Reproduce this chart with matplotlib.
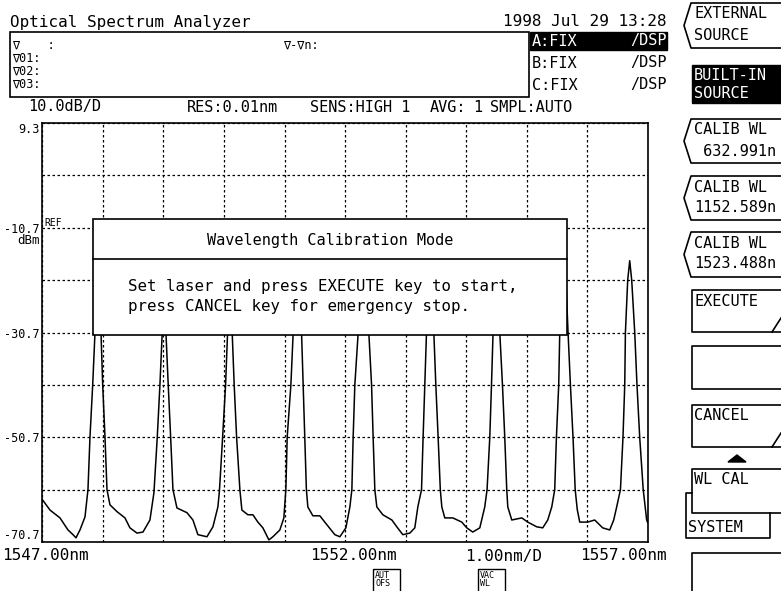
import numpy as np
import matplotlib.pyplot as plt
from matplotlib.patches import Rectangle, Polygon

plt.rcParams['font.family'] = ['DejaVu Sans Mono', 'DejaVu Sans']

# ---- trace (wavelength offset from 1547 nm, level dBm)
wl_off = [0.000, 0.127, 0.292, 0.424, 0.507, 0.556, 0.622, 0.705, 0.754, 0.787,
          0.832, 0.870, 0.894, 0.919, 0.944, 0.969, 0.997, 1.035, 1.068, 1.117,
          1.233, 1.365, 1.447, 1.563, 1.662, 1.777, 1.843, 1.898, 1.942, 1.980,
          2.008, 2.016, 2.028, 2.041, 2.079, 2.119, 2.157, 2.223, 2.388, 2.487,
          2.569, 2.718, 2.817, 2.899, 2.924, 2.977, 3.026, 3.059, 3.081, 3.097,
          3.114, 3.135, 3.168, 3.208, 3.262, 3.295, 3.394, 3.477, 3.559, 3.642,
          3.741, 3.807, 3.922, 3.988, 4.021, 4.043, 4.104, 4.142, 4.178, 4.211,
          4.244, 4.280, 4.307, 4.335, 4.360, 4.384, 4.467, 4.582, 4.698, 4.830,
          4.913, 5.012, 5.078, 5.111, 5.132, 5.160, 5.215, 5.259, 5.300, 5.342,
          5.391, 5.436, 5.462, 5.490, 5.523, 5.622, 5.771, 5.853, 5.952, 6.068,
          6.150, 6.200, 6.261, 6.287, 6.315, 6.343, 6.373, 6.403, 6.431, 6.464,
          6.497, 6.535, 6.571, 6.596, 6.645, 6.777, 6.926, 7.008, 7.107, 7.223,
          7.305, 7.343, 7.388, 7.416, 7.442, 7.470, 7.498, 7.528, 7.553, 7.597,
          7.635, 7.668, 7.685, 7.751, 7.916, 8.015, 8.163, 8.262, 8.345, 8.411,
          8.460, 8.488, 8.526, 8.543, 8.576, 8.609, 8.642, 8.680, 8.719, 8.762,
          8.798, 8.832, 8.873, 9.005, 9.120, 9.252, 9.368, 9.434, 9.483, 9.545,
          9.587, 9.616, 9.627, 9.665, 9.698, 9.731, 9.781, 9.818, 9.863, 9.921,
          9.978, 9.995]
level = [-62.6, -64.6, -66.1, -68.4, -69.3, -69.9, -68.4, -65.9, -60.7, -50.7,
         -40.7, -30.7, -20.0, -15.0, -20.0, -30.7, -40.7, -50.7, -60.7, -63.6,
         -64.9, -66.1, -68.0, -69.0, -68.8, -66.5, -61.3, -50.7, -40.7, -30.7,
         -20.0, -14.0, -20.0, -30.7, -40.7, -50.7, -60.7, -64.2, -65.1, -66.5,
         -69.3, -69.7, -67.8, -64.0, -61.0, -50.7, -40.7, -30.7, -20.0, -15.0,
         -20.0, -30.7, -40.7, -50.7, -60.7, -64.6, -65.5, -65.5, -66.9, -68.0,
         -70.3, -69.7, -68.4, -66.1, -60.7, -50.7, -40.7, -30.7, -20.0, -14.0,
         -20.0, -30.7, -40.7, -50.7, -60.7, -64.0, -65.7, -65.7, -67.4, -69.3,
         -69.7, -68.0, -64.0, -60.7, -50.7, -40.7, -30.7, -20.0, -15.0, -20.0,
         -30.7, -40.7, -50.7, -60.7, -64.0, -65.5, -66.5, -67.8, -69.3, -69.0,
         -68.0, -64.0, -60.7, -50.7, -40.7, -30.7, -20.0, -15.0, -20.0, -30.7,
         -40.7, -50.7, -60.7, -64.0, -66.1, -66.1, -66.9, -68.0, -68.8, -68.0,
         -64.0, -60.7, -50.7, -40.7, -30.7, -20.0, -15.0, -20.0, -30.7, -40.7,
         -50.7, -60.7, -64.0, -66.5, -66.1, -66.9, -67.8, -68.0, -66.5, -64.0,
         -60.7, -50.7, -40.7, -30.7, -20.0, -15.0, -20.0, -30.7, -40.7, -50.7,
         -60.7, -64.5, -66.9, -66.9, -66.5, -68.0, -68.4, -66.5, -64.0, -60.7,
         -50.7, -40.7, -30.7, -20.7, -17.0, -20.7, -30.7, -40.7, -50.7, -60.7,
         -66.5, -67.0]

wl_start = 1547.00
wl_stop = 1557.00
y_grid = [9.3, -0.7, -10.7, -20.7, -30.7, -40.7, -50.7, -60.7, -70.7]
y_labels = ['9.3', '', '-10.7', '', '-30.7', '', '-50.7', '', '-70.7']

header = ['10.0dB/D', 'RES:0.01nm', 'SENS:HIGH 1', 'AVG:', '1', 'SMPL:AUTO']
header_x = [28, 187, 310, 430, 473, 490]
traces = ['A:FIX', 'B:FIX', 'C:FIX']
markers = ['\u2207    :', '\u220701:', '\u220702:', '\u220703:']
x_text = ['1547.00nm', '1552.00nm', '1.00nm/D', '1557.00nm']
x_text_px = [2, 310, 465, 580]

W, H = 781, 591
fig = plt.figure(figsize=(W / 100, H / 100), dpi=100)
bg = fig.add_axes([0, 0, 1, 1])
bg.set_xlim(0, W)
bg.set_ylim(H, 0)
bg.axis('off')

# spectrum axes
L, R, T, B = 42.3, 648, 123, 542
ax = fig.add_axes([L / W, (H - B) / H, (R - L) / W, (B - T) / H])
wl = [wl_start + v for v in wl_off]
ax.plot(wl, level, color='black', lw=1.1)
ax.set_xlim(wl_start, wl_stop)
ax.set_ylim(y_grid[-1], y_grid[0])
ax.set_xticks(np.arange(1547, 1558, 1.0))
ax.set_xticklabels([])
ax.set_yticks(y_grid)
ax.set_yticklabels(y_labels, fontsize=8.5)
tl = ax.get_yticklabels()
tl[0].set_va('top')
tl[-1].set_va('bottom')
ax.tick_params(length=0, pad=2)
ax.grid(True, color='black', ls=(0, (2, 2)), lw=0.9)
for s in ax.spines.values():
    s.set_linewidth(1.2)
ax.text(0.003, -10.7, 'REF', fontsize=7, va='bottom', transform=ax.get_yaxis_transform())

txt = dict(color='black', va='center', ha='left')
bg.text(10, 22, 'Optical Spectrum Analyzer', fontsize=11.5, **txt)
bg.text(503, 21, '1998 Jul 29 13:28', fontsize=11.5, **txt)

# marker box
bg.add_patch(Rectangle((10, 32), 519, 65, fill=False, lw=1.2, ec='black'))
for i, m in enumerate(markers):
    bg.text(12, 45 + i * 13, m, fontsize=8.5, **txt)
bg.text(283, 45, '\u2207-\u2207n:', fontsize=8.5, **txt)

# trace status
bg.add_patch(Rectangle((530, 32), 137, 18, color='black'))
for i, t in enumerate(traces):
    c = 'white' if i == 0 else 'black'
    bg.text(532, 41 + i * 22, t, fontsize=11, color=c, va='center', ha='left')
    bg.text(667, 41 + i * 22, '/DSP', fontsize=11, color=c, va='center', ha='right')

for s, x in zip(header, header_x):
    bg.text(x, 107, s, fontsize=11, **txt)

bg.text(40, 241, 'dBm', fontsize=9, va='center', ha='right')
for s, x in zip(x_text, x_text_px):
    bg.text(x, 556, s, fontsize=11.5, **txt)

# small status boxes under the axis
for x0, a, b in [(373, 'AUT', 'OFS'), (478, 'VAC', 'WL')]:
    bg.add_patch(Rectangle((x0, 569), 27, 30, fill=False, lw=1, ec='black'))
    bg.text(x0 + 2, 575, a, fontsize=6, **txt)
    bg.text(x0 + 2, 584, b, fontsize=6, **txt)

# dialog on top of the trace
top = fig.add_axes([0, 0, 1, 1], zorder=10)
top.set_xlim(0, W)
top.set_ylim(H, 0)
top.axis('off')
top.patch.set_alpha(0)
top.add_patch(Rectangle((93, 219), 474, 116, fc='white', ec='black', lw=1.2))
top.plot([93, 567], [259, 259], color='black', lw=1.2)
top.text(330, 240, 'Wavelength Calibration Mode', fontsize=11, ha='center', va='center')
top.text(128, 287, 'Set laser and press EXECUTE key to start,', fontsize=11.3, **txt)
top.text(128, 307, 'press CANCEL key for emergency stop.', fontsize=11.3, **txt)

# soft keys on the right
def bracket_key(y0, y1, lines):
    ym = (y0 + y1) / 2
    bg.plot([W + 2, 691, 684, 691, W + 2], [y0, y0, ym, y1, y1], color='black', lw=1.2)
    for i, s in enumerate(lines):
        bg.text(694, y0 + 11 + i * 21, s, fontsize=11, **txt)

def box_key(y0, y1, lines, slash=False):
    bg.plot([W + 2, 692, 692, W + 2], [y0, y0, y1, y1], color='black', lw=1.2)
    for i, s in enumerate(lines):
        bg.text(694, y0 + 11 + i * 21, s, fontsize=11, **txt)
    if slash:
        bg.plot([772, 781], [y1, y1 - 14], color='black', lw=1.2)

bracket_key(3, 48, ['EXTERNAL', 'SOURCE'])
bg.add_patch(Rectangle((692, 65), 90, 38, color='black'))
bg.text(694, 75, 'BUILT-IN', fontsize=11, color='white', va='center', ha='left')
bg.text(694, 93, 'SOURCE', fontsize=11, color='white', va='center', ha='left')
bracket_key(119, 163, ['CALIB WL', ' 632.991n'])
bracket_key(176, 220, ['CALIB WL', '1152.589n'])
bracket_key(232, 277, ['CALIB WL', '1523.488n'])
box_key(290, 332, ['EXECUTE'], slash=True)
box_key(346, 389, [])
box_key(405, 447, ['CANCEL'], slash=True)
bg.add_patch(Polygon([[728, 462], [746, 462], [737, 455]], color='black'))
box_key(469, 513, ['WL CAL'])
bg.plot([692, 686, 686, 770, 770], [493, 493, 538, 538, 513], color='black', lw=1.2)
bg.text(688, 527, 'SYSTEM', fontsize=11, **txt)
box_key(553, 600, [])

fig.savefig('out.png', dpi=100)
